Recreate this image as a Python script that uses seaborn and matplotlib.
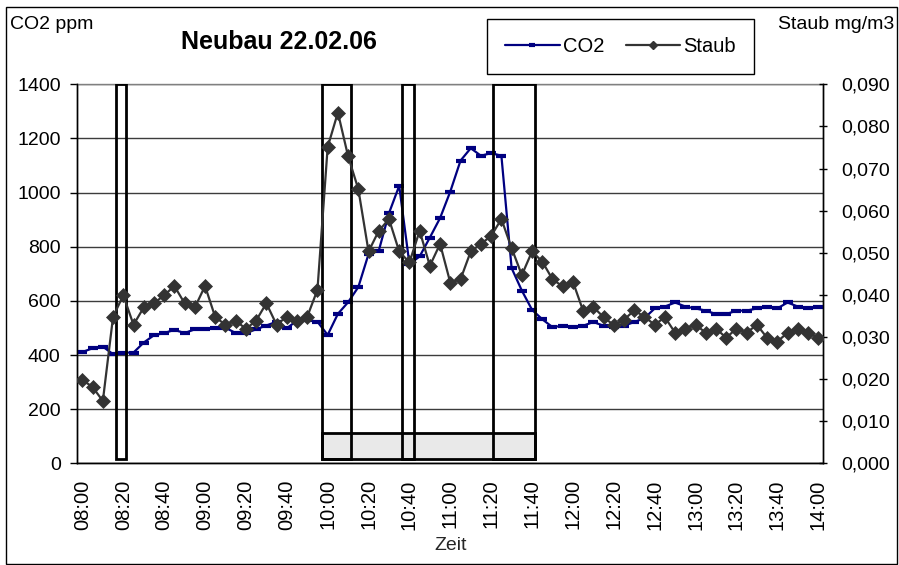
import numpy as np
import pandas as pd
import matplotlib
matplotlib.use("Agg")
import matplotlib.pyplot as plt
import matplotlib.ticker as mtick
from matplotlib.patches import Rectangle
from matplotlib.lines import Line2D
import seaborn as sns

# ── Data ──────────────────────────────────────────────────────────────────────
times = pd.date_range("2006-02-22 08:00", "2006-02-22 14:00", freq="5min").strftime("%H:%M").tolist()

co2 = [411, 425, 431, 403, 409, 409, 446, 473, 481, 493,
       481, 495, 495, 501, 501, 481, 481, 495, 509, 523,
       499, 527, 530, 523, 474, 552, 595, 651, 773, 785,
       924, 1025, 736, 764, 834, 906, 1004, 1118, 1164, 1136,
       1146, 1136, 721, 638, 567, 532, 503, 508, 503, 508,
       522, 508, 503, 508, 522, 536, 572, 579, 594, 579,
       572, 564, 551, 551, 564, 564, 572, 579, 572, 594,
       579, 572, 579]

staub = [0.0198, 0.0181, 0.0148, 0.0348, 0.0399, 0.0329, 0.0370, 0.0380, 0.0399, 0.0421,
         0.0380, 0.0370, 0.0421, 0.0347, 0.0329, 0.0339, 0.0319, 0.0339, 0.0380, 0.0329,
         0.0348, 0.0339, 0.0348, 0.0412, 0.0751, 0.0833, 0.0729, 0.0651, 0.0503, 0.0552,
         0.0580, 0.0503, 0.0477, 0.0552, 0.0469, 0.0521, 0.0429, 0.0437, 0.0503, 0.0521,
         0.0540, 0.0580, 0.0511, 0.0447, 0.0503, 0.0479, 0.0437, 0.0420, 0.0431, 0.0362,
         0.0371, 0.0347, 0.0328, 0.0341, 0.0363, 0.0348, 0.0329, 0.0347, 0.0310, 0.0320,
         0.0329, 0.0310, 0.0320, 0.0298, 0.0320, 0.0310, 0.0329, 0.0298, 0.0289, 0.0310,
         0.0320, 0.0310, 0.0298]

co2_ticks = [0, 200, 400, 600, 800, 1000, 1200, 1400]
staub_ticks = [0.0, 0.01, 0.02, 0.03, 0.04, 0.05, 0.06, 0.07, 0.08, 0.09]

# marked periods (in category units) and the shaded band under them
boxes = [(3.3, 4.3), (23.45, 26.25), (31.3, 32.4), (40.2, 44.3)]
band = (23.45, 44.3)

# ── Palette ───────────────────────────────────────────────────────────────────
NAVY = "#000080"
DARK = "#333333"
FONT = "Liberation Sans"

sns.set_theme(style="white")
plt.rcParams.update({
    "font.family": [FONT, "DejaVu Sans"],
    "axes.edgecolor": "black",
    "axes.linewidth": 1.0,
    "xtick.color": "black",
    "ytick.color": "black",
    "text.color": "black",
})

df = pd.DataFrame({"pos": np.arange(len(times)), "Zeit": times, "CO2": co2, "Staub": staub})

W, H = 899, 565
fig = plt.figure(figsize=(W / 100, H / 100), dpi=100)
ax = fig.add_axes([77.3 / W, 1 - 463.3 / H, 746 / W, 379 / H])

ax.yaxis.grid(True, color="#3c3c3c", linewidth=1.0, zorder=0)
ax.set_axisbelow(True)

sns.lineplot(data=df, x="pos", y="CO2", ax=ax, color=NAVY, linewidth=1.6,
             marker="_", markersize=7, markeredgewidth=3, markeredgecolor=NAVY,
             label="CO2", zorder=3)

# marked periods
for x0, x1 in boxes:
    ax.add_patch(Rectangle((x0, 15), x1 - x0, 1400 - 15, fill=False,
                           edgecolor="black", linewidth=2, zorder=4))
ax.add_patch(Rectangle((band[0], 15), band[1] - band[0], 113 - 15,
                       facecolor="#e9e9e9", edgecolor="black", linewidth=2, zorder=2))

ax.set_xlim(-0.5, len(times) - 0.5)
ax.set_ylim(0, 1400)
ax.set_yticks(co2_ticks)
ax.set_yticklabels([str(t) for t in co2_ticks], fontsize=14)
ax.tick_params(axis="y", direction="out", length=5, width=1, pad=7)

ax.set_xticks(df["pos"][::4])
ax.set_xticklabels(df["Zeit"][::4], rotation=90, fontsize=14.5)
ax.set_xticks(np.arange(len(times) + 1) - 0.5, minor=True)
ax.tick_params(axis="x", which="major", length=0, pad=11.5)
ax.tick_params(axis="x", which="minor", direction="out", length=5, width=1)
ax.set_xlabel("Zeit", fontsize=14, va="top")
ax.xaxis.set_label_coords(0.5, (463.3 - 537) / 379)
ax.set_ylabel("")
ax.spines["top"].set_color("#808080")

ax2 = ax.twinx()
sns.lineplot(data=df, x="pos", y="Staub", ax=ax2, color=DARK, linewidth=1.6,
             marker="D", markersize=7, markeredgewidth=0.5, markeredgecolor=DARK,
             label="Staub", zorder=5)
ax2.set_ylim(0, 0.09)
ax2.set_yticks(staub_ticks)
ax2.yaxis.set_major_formatter(mtick.FuncFormatter(lambda v, _: f"{v:.3f}".replace(".", ",")))
ax2.tick_params(axis="y", direction="inout", length=6, width=1, pad=10, labelsize=14)
ax2.set_ylabel("")
ax2.spines["top"].set_visible(False)

for a in (ax, ax2):
    if a.get_legend() is not None:
        a.get_legend().remove()

handles = [
    Line2D([], [], color=NAVY, linewidth=1.6, marker="_", markersize=5, markeredgewidth=3),
    Line2D([], [], color=DARK, linewidth=1.6, marker="D", markersize=4.5),
]
fig.legend(handles, ["CO2", "Staub"], loc="upper left",
           bbox_to_anchor=(487 / W, 1 - 19 / H), borderaxespad=0, ncol=2, fontsize=14.5,
           frameon=True, fancybox=False, edgecolor="black", framealpha=1,
           borderpad=0.9, handlelength=2.7, handletextpad=0.15, columnspacing=1.1)

fig.text(10 / W, 1 - 29 / H, "CO2 ppm", fontsize=14, ha="left", va="baseline")
fig.text(894 / W, 1 - 29 / H, "Staub mg/m3", fontsize=14, ha="right", va="baseline")
fig.text(279 / W, 1 - 49.3 / H, "Neubau 22.02.06", fontsize=18, fontweight="bold",
         ha="center", va="baseline")

# outer chart border
fig.patches.append(Rectangle((6 / W, 1 / H), 891 / W, 557 / H, fill=False,
                             edgecolor="black", linewidth=1, transform=fig.transFigure))

fig.savefig("out.png", dpi=100)
plt.close()
